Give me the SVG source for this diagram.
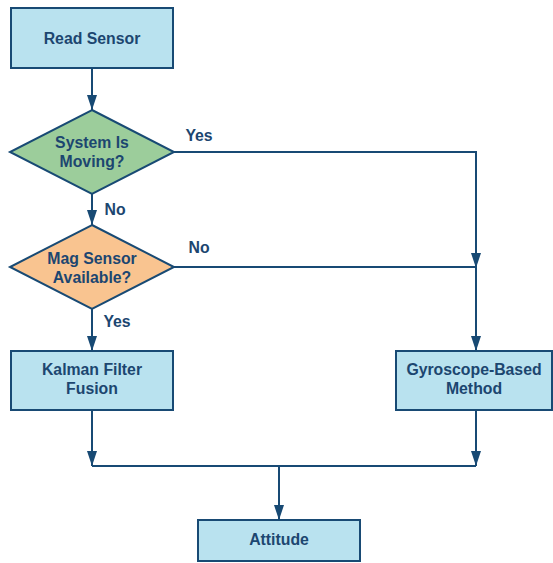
<svg xmlns="http://www.w3.org/2000/svg" width="553" height="563" viewBox="0 0 553 563">
<style>
.box{fill:#b9e2ef;stroke:#184a74;stroke-width:2}
.t{font-family:"Liberation Sans",Arial,sans-serif;font-weight:bold;font-size:15.8px;fill:#1c4670;text-anchor:middle}
.c{fill:none;stroke:#184a74;stroke-width:2}
</style>
<defs>
<marker id="b" viewBox="0 0 15 10" refX="15" refY="5" markerWidth="15" markerHeight="10" markerUnits="userSpaceOnUse" orient="auto">
<path d="M0,0 L15,5 L0,10 Z" fill="#184a74"/>
</marker>
</defs>
<rect x="0" y="0" width="553" height="563" fill="#ffffff"/>
<g id="connectors">
<path class="c" d="M92,68 V110" marker-end="url(#b)"/>
<path class="c" d="M173,152 H476 V268" marker-end="url(#b)"/>
<path class="c" d="M92,194 V225" marker-end="url(#b)"/>
<path class="c" d="M173,267 H476"/>
<path class="c" d="M476,267 V351" marker-end="url(#b)"/>
<path class="c" d="M92,309 V351" marker-end="url(#b)"/>
<path class="c" d="M92,410 V466" marker-end="url(#b)"/>
<path class="c" d="M476,410 V466" marker-end="url(#b)"/>
<path class="c" d="M92,466 H476"/>
<path class="c" d="M279,466 V520" marker-end="url(#b)"/>
<text class="t" x="199" y="141">Yes</text>
<text class="t" x="115" y="215">No</text>
<text class="t" x="199" y="253">No</text>
<text class="t" x="117" y="327">Yes</text>
</g>
<g id="read-sensor">
<rect class="box" x="11" y="8" width="162" height="60"/>
<text class="t" x="92" y="44">Read Sensor</text>
</g>
<g id="system-moving">
<polygon points="92,110 174,152 92,194 10,152" fill="#9ccd9b" stroke="#184a74" stroke-width="2"/>
<text class="t" x="92" y="148">System Is</text>
<text class="t" x="92" y="167">Moving?</text>
</g>
<g id="mag-sensor">
<polygon points="92,225 174,267 92,309 10,267" fill="#f9c490" stroke="#184a74" stroke-width="2"/>
<text class="t" x="92" y="264">Mag Sensor</text>
<text class="t" x="92" y="283">Available?</text>
</g>
<g id="kalman">
<rect class="box" x="11" y="351" width="162" height="59"/>
<text class="t" x="92" y="375">Kalman Filter</text>
<text class="t" x="92" y="394">Fusion</text>
</g>
<g id="gyro">
<rect class="box" x="396" y="351" width="156" height="59"/>
<text class="t" x="474" y="375">Gyroscope-Based</text>
<text class="t" x="474" y="394">Method</text>
</g>
<g id="attitude">
<rect class="box" x="198" y="520" width="162" height="41"/>
<text class="t" x="279" y="545">Attitude</text>
</g>
</svg>
